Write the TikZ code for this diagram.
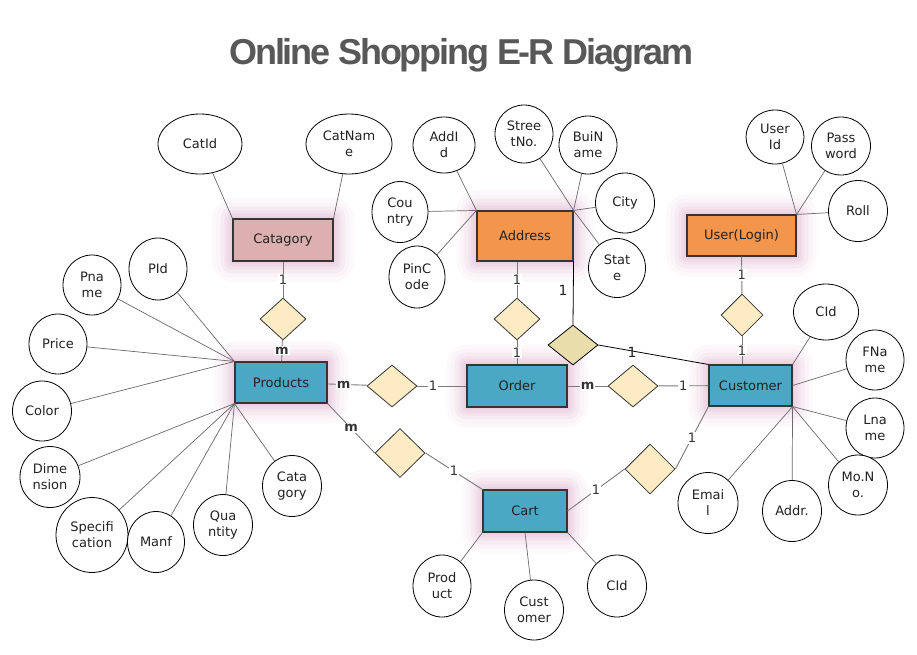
\documentclass[tikz,border=0pt]{standalone}
\usepackage{fontspec}
\setmainfont{DejaVu Sans}
\newfontfamily\titlefont{Liberation Sans}[LetterSpace=-6]
\usetikzlibrary{shapes.geometric,calc}
\pgfdeclarelayer{background}
\pgfdeclarelayer{bottom}
\pgfsetlayers{bottom,background,main}
\definecolor{entb}{HTML}{353535}
\definecolor{bluec}{HTML}{4AA8C4}
\definecolor{orangec}{HTML}{F4954C}
\definecolor{pinkc}{HTML}{DDB0B0}
\definecolor{relc}{HTML}{FDEBC3}
\definecolor{relsc}{HTML}{E9DDAC}
\definecolor{connc}{HTML}{7A7A7A}
\definecolor{attl}{HTML}{6A6A6A}
\definecolor{txt}{HTML}{222222}
\definecolor{labc}{HTML}{333333}
\definecolor{titlec}{HTML}{585858}
\definecolor{glowc}{RGB}{200,110,165}
\newcommand{\entfont}{\fontsize{13}{16}\selectfont}
\newcommand{\attfont}{\fontsize{13}{16}\selectfont}
\newcommand{\labfont}{\fontsize{13}{14}\selectfont}
\newcommand{\bigone}{\fontsize{14}{16}\selectfont}
\newcommand{\glowbox}[1]{%
  \begin{pgfonlayer}{background}
  \foreach \r/\o in {20/0.035,16/0.045,12/0.055,8/0.065,5/0.075,2/0.08}{%
    \fill[glowc, opacity=\o, rounded corners=\r pt]
      ($(#1.south west)+(-\r pt,-\r pt)$) rectangle ($(#1.north east)+(\r pt,\r pt)$);
  }
  \end{pgfonlayer}}
\begin{document}
\begin{tikzpicture}[x=1pt,y=-1pt,
  ent/.style={rectangle, draw=entb, line width=1.1pt, inner sep=0pt, font=\entfont, text=txt},
  attr/.style={ellipse, draw=black, line width=0.8pt, fill=white, inner sep=0pt, align=center, font=\attfont, text=txt},
  rel/.style={diamond, draw=entb, line width=0.8pt, fill=relc, inner sep=0pt},
  conn/.style={draw=connc, line width=0.9pt},
  lab/.style={fill=white, inner sep=1pt, font=\labfont, text=labc},
  labm/.style={lab, font=\labfont\bfseries},
  alink/.style={draw=attl, line width=0.7pt}]
\begin{pgfonlayer}{bottom}
\fill[white] (0,0) rectangle (917,654);
\end{pgfonlayer}
\useasboundingbox (0,0) rectangle (917,654);

% title
\node[anchor=base, text=titlec, inner sep=0pt] (title) at (461.5,64)
  {\titlefont\bfseries\fontsize{36}{40}\selectfont Online Shopping E-R Diagram};

% entities
\node[ent, fill=pinkc, minimum width=100, minimum height=42] (Catagory) at (283,240) {Catagory};
\node[ent, fill=orangec, minimum width=96, minimum height=50] (Address) at (525,236) {Address};
\node[ent, fill=orangec, minimum width=109, minimum height=41] (User) at (741.5,235.5) {User(Login)};
\node[ent, fill=bluec, minimum width=92, minimum height=41] (Products) at (281,382.5) {Products};
\node[ent, fill=bluec, minimum width=100, minimum height=42] (Order) at (517,386) {Order};
\node[ent, fill=bluec, minimum width=83, minimum height=41] (Customer) at (750.5,385.5) {Customer};
\node[ent, fill=bluec, minimum width=84, minimum height=42] (Cart) at (525,511) {Cart};
\glowbox{Catagory}\glowbox{Address}\glowbox{User}\glowbox{Products}
\glowbox{Order}\glowbox{Customer}\glowbox{Cart}

% relationships
\node[rel, minimum width=46, minimum height=42] (dCat) at (283,319) {};
\node[rel, minimum width=46, minimum height=42] (dAdd) at (517,319) {};
\node[rel, minimum width=42, minimum height=42] (dUser) at (742,315) {};
\node[rel, fill=relsc, draw=black, minimum width=50, minimum height=40] (dS) at (573,345) {};
\node[rel, minimum width=50, minimum height=42] (dPO) at (392,386) {};
\node[rel, minimum width=50, minimum height=42] (dOC) at (633,386) {};
\node[rel, minimum width=50, minimum height=49] (dPC) at (400,453) {};
\node[rel, minimum width=50, minimum height=50] (dCC) at (650,469) {};

% connectors
\draw[conn] (Catagory) -- node[lab]{1} (dCat);
\draw[conn] (dCat) -- node[labm]{m} (Products);
\draw[conn] (Address.south -| dAdd) -- node[lab]{1} (dAdd);
\draw[conn] (dAdd) -- node[lab]{1} (Order);
\draw[conn] (User) -- node[lab]{1} (dUser);
\draw[conn] (dUser) -- node[lab]{1} (Customer.north -| dUser);
\draw[conn] (Products) -- node[labm, pos=0.4]{m} (dPO);
\draw[conn] (dPO) -- node[lab, pos=0.32]{1} (Order);
\draw[conn] (Order) -- node[labm]{m} (dOC);
\draw[conn] (dOC) -- node[lab]{1} (Customer);
\draw[conn] (Products.south east) -- node[labm, pos=0.5]{m} (dPC.west);
\draw[conn] (dPC.east) -- node[lab]{1} (Cart.north west);
\draw[conn] (Cart.east) -- node[lab]{1} (dCC.west);
\draw[conn] (dCC.east) -- node[lab]{1} (Customer.south west);
\draw[black, line width=0.8pt] (Address.south east) -- (dS.north);
\draw[black, line width=0.8pt] (dS.east) -- (Customer.north west);
\node[font=\bigone, text=txt] (one1) at (563,290) {1};
\node[font=\bigone, text=txt] (one2) at (632,352) {1};

% attributes
\node[attr, minimum width=84, minimum height=60] (CatId) at (200,144) {CatId};
\node[attr, minimum width=86, minimum height=60] (CatName) at (349,144) {CatNam\\e};
\node[attr, minimum width=62, minimum height=56] (AddId) at (444,145) {AddI\\d};
\node[attr, minimum width=58, minimum height=58] (StreetNo) at (524,134) {Stree\\tNo.};
\node[attr, minimum width=58, minimum height=58] (BuiName) at (588,145) {BuiN\\ame};
\node[attr, minimum width=59, minimum height=60] (City) at (625,203) {City};
\node[attr, minimum width=57, minimum height=59] (State) at (617,268) {Stat\\e};
\node[attr, minimum width=56, minimum height=61] (Country) at (400,212) {Cou\\ntry};
\node[attr, minimum width=56, minimum height=62] (PinCode) at (417,277) {PinC\\ode};
\node[attr, minimum width=58, minimum height=54] (UserId) at (775,137) {User\\Id};
\node[attr, minimum width=59, minimum height=58] (Password) at (841,146) {Pass\\word};
\node[attr, minimum width=59, minimum height=61] (Roll) at (858,211) {Roll};
\node[attr, minimum width=65, minimum height=56] (CIdC) at (826,312) {CId};
\node[attr, minimum width=58, minimum height=60] (FName) at (875,360) {FNa\\me};
\node[attr, minimum width=58, minimum height=60] (Lname) at (875,428) {Lna\\me};
\node[attr, minimum width=59, minimum height=60] (MoNo) at (858,485) {Mo.N\\o.};
\node[attr, minimum width=59, minimum height=61] (Addr) at (792,511) {Addr.};
\node[attr, minimum width=60, minimum height=61] (Email) at (708,503) {Emai\\l};
\node[attr, minimum width=58, minimum height=60] (Pname) at (92,285) {Pna\\me};
\node[attr, minimum width=58, minimum height=62] (PId) at (158,269) {PId};
\node[attr, minimum width=58, minimum height=60] (Price) at (58,344) {Price};
\node[attr, minimum width=59, minimum height=60] (Color) at (42,411) {Color};
\node[attr, minimum width=60, minimum height=61] (Dimension) at (50,477) {Dime\\nsion};
\node[attr, minimum width=72, minimum height=75] (Specification) at (92,535) {Specifi\\cation};
\node[attr, minimum width=57, minimum height=61] (Manf) at (156,542) {Manf};
\node[attr, minimum width=59, minimum height=61] (Quantity) at (223,525) {Qua\\ntity};
\node[attr, minimum width=59, minimum height=61] (CataAttr) at (292,486) {Cata\\gory};
\node[attr, minimum width=58, minimum height=62] (Product) at (442,586) {Prod\\uct};
\node[attr, minimum width=59, minimum height=60] (CustAttr) at (534,610) {Cust\\omer};
\node[attr, minimum width=59, minimum height=62] (CIdCart) at (617,586) {CId};

% attribute links
\draw[alink] (CatId) -- (Catagory.north west);
\draw[alink] (CatName) -- (Catagory.north east);
\foreach \a in {AddId,Country,PinCode} \draw[alink] (\a) -- (Address.north west);
\foreach \a in {StreetNo,BuiName,City,State} \draw[alink] (\a) -- (Address.north east);
\foreach \a in {UserId,Password,Roll} \draw[alink] (\a) -- (User.north east);
\draw[alink] (CIdC) -- (Customer.north east);
\draw[alink] (FName) -- (Customer.east);
\foreach \a in {Lname,MoNo,Addr,Email} \draw[alink] (\a) -- (Customer.south east);
\foreach \a in {Pname,PId,Price,Color} \draw[alink] (\a) -- (Products.north west);
\foreach \a in {Dimension,Specification,Manf,Quantity,CataAttr} \draw[alink] (\a) -- (Products.south west);
\draw[alink] (Product) -- (Cart.south west);
\draw[alink] (CustAttr) -- (Cart.south);
\draw[alink] (CIdCart) -- (Cart.south east);
\end{tikzpicture}
\end{document}
